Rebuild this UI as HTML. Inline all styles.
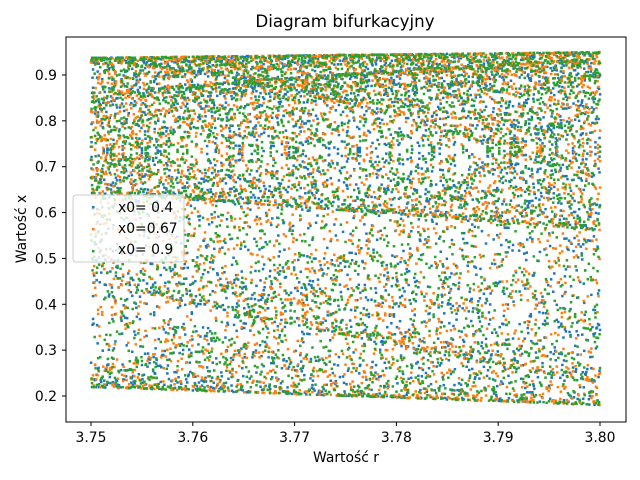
<!DOCTYPE html>
<html><head><meta charset="utf-8"><style>
body{margin:0;background:#fff;}
svg{display:block;font-family:"DejaVu Sans","Liberation Sans",sans-serif;}
</style></head><body>
<svg id="chart" width="640" height="480">
<defs><clipPath id="clip"><rect x="66" y="37" width="560" height="385"/></clipPath></defs>
<rect x="0" y="0" width="640" height="480" fill="#fff"/>
<text x="345" y="27" text-anchor="middle" font-size="16.7">Diagram bifurkacyjny</text>
<g id="marks" clip-path="url(#clip)"></g>
<rect x="66" y="37" width="560" height="385" fill="none" stroke="#000" stroke-width="1"/>
<g id="xt"></g>
<g id="yt"></g>
<text x="346" y="462" text-anchor="middle" font-size="13.9">Wartość r</text>
<text x="0" y="0" transform="translate(26,229) rotate(-90)" text-anchor="middle" font-size="13.9">Wartość x</text>
<g>
<rect x="73" y="195" width="111" height="67" rx="3" fill="#fff" fill-opacity="0.8" stroke="#ccc"/>
<rect x="92" y="206" width="2.5" height="2.5" fill="#1f77b4"/>
<text x="118" y="212" font-size="13.9">x0= 0.4</text>
<rect x="92" y="228" width="2.5" height="2.5" fill="#ff7f0e"/>
<text x="118" y="233" font-size="13.9">x0=0.67</text>
<rect x="92" y="250" width="2.5" height="2.5" fill="#2ca02c"/>
<text x="118" y="254" font-size="13.9">x0= 0.9</text>
</g>
</svg>
<script>
const xTicks=[3.75,3.76,3.77,3.78,3.79,3.80];
const xTickLabels=["3.75","3.76","3.77","3.78","3.79","3.80"];
const yTicks=[0.2,0.3,0.4,0.5,0.6,0.7,0.8,0.9];
const yTickLabels=["0.2","0.3","0.4","0.5","0.6","0.7","0.8","0.9"];
const initialValues=[0.4,0.67,0.9];
const seriesColors=["#1f77b4","#ff7f0e","#2ca02c"];
const rRange=[3.75,3.80];
const rSteps=1000;
const transient=100;
const keep=4;
const NS="http://www.w3.org/2000/svg";
function sx(r){return 91+(r-3.75)*10180;}
function sy(v){return 396-(v-0.2)*458.6;}
const xt=document.getElementById('xt'),yt=document.getElementById('yt'),marks=document.getElementById('marks');
xTicks.forEach((t,i)=>{
 const l=document.createElementNS(NS,'line');
 l.setAttribute('x1',sx(t));l.setAttribute('x2',sx(t));l.setAttribute('y1',422);l.setAttribute('y2',426);l.setAttribute('stroke','#000');
 
 
 xt.appendChild(l);
 const tx=document.createElementNS(NS,'text');
 tx.setAttribute('x',sx(t));tx.setAttribute('y',442);tx.setAttribute('text-anchor','middle');tx.setAttribute('font-size','13.9');tx.textContent=xTickLabels[i];
 
 
 xt.appendChild(tx);
});
yTicks.forEach((t,i)=>{
 const l=document.createElementNS(NS,'line');
 l.setAttribute('x1',62);l.setAttribute('x2',66);l.setAttribute('y1',sy(t));l.setAttribute('y2',sy(t));l.setAttribute('stroke','#000');
 
 
 yt.appendChild(l);
 const tx=document.createElementNS(NS,'text');
 tx.setAttribute('x',57);tx.setAttribute('y',sy(t)+5);tx.setAttribute('text-anchor','end');tx.setAttribute('font-size','13.9');tx.textContent=yTickLabels[i];
 
 
 yt.appendChild(tx);
});
initialValues.forEach((x0,si)=>{
 const g=document.createElementNS(NS,'g');
 g.setAttribute('fill',seriesColors[si]);
 
 
 let html='';
 for(let k=0;k<=rSteps;k++){
  const r=rRange[0]+(rRange[1]-rRange[0])*k/rSteps;
  let x=x0;
  for(let i=0;i<transient;i++)x=r*x*(1-x);
  for(let i=0;i<keep;i++){x=r*x*(1-x);
   html+='<rect x="'+(sx(r)-1.2).toFixed(1)+'" y="'+(sy(x)-1.2).toFixed(1)+'" width="2.5" height="2.5"/>';}
 }
 g.innerHTML=html;
 marks.appendChild(g);
});
</script>
</body></html>
